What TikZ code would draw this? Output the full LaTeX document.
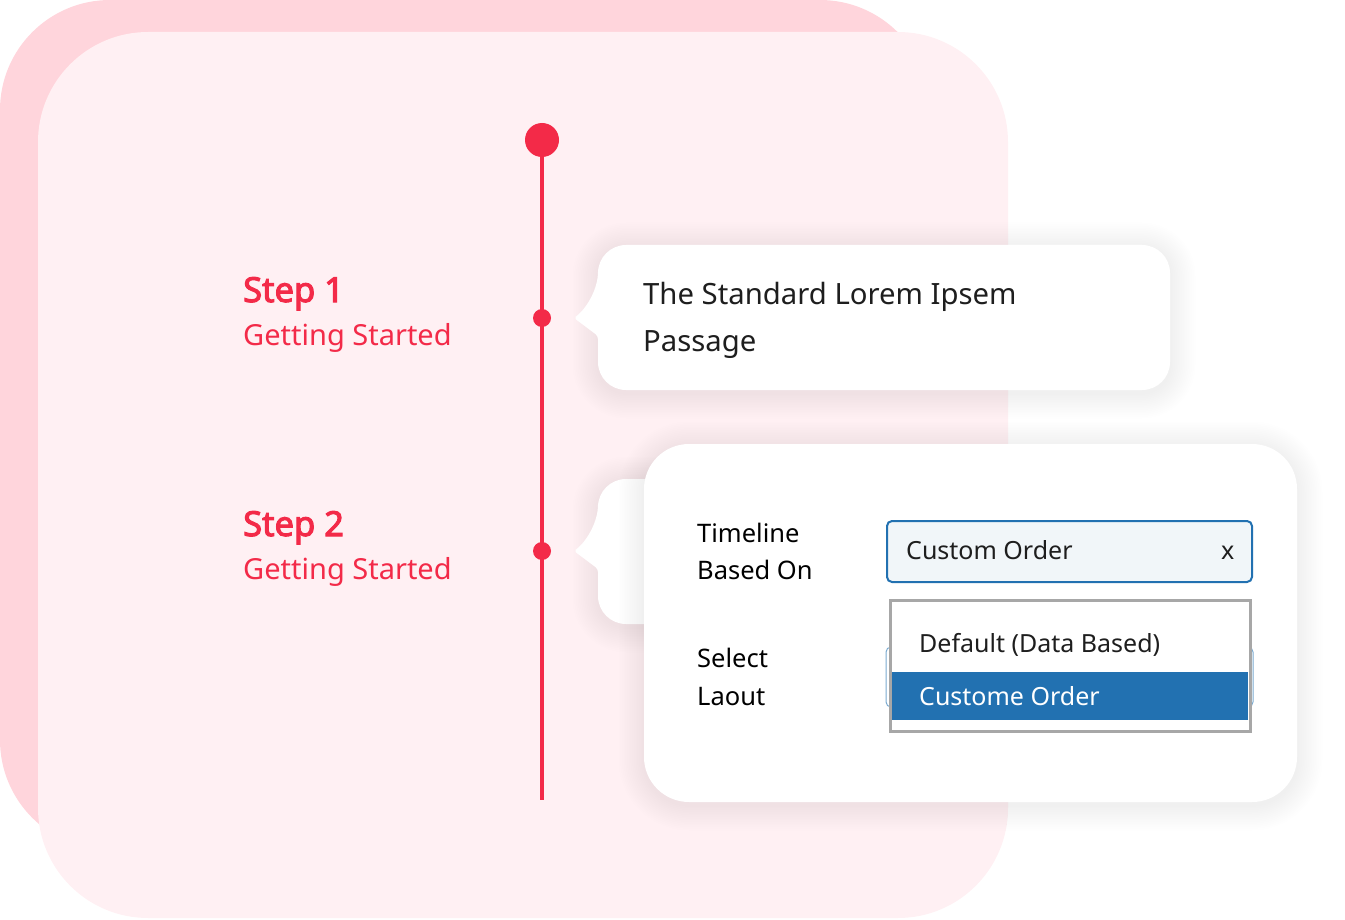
\documentclass[tikz,border=0pt]{standalone}
\usepackage{fontspec}
\setmainfont{Noto Sans}
\newfontfamily\stepfont{Noto Sans}[FakeBold=3]
\definecolor{backpink}{HTML}{FFD5DC}
\definecolor{frontpink}{HTML}{FFF0F3}
\definecolor{tred}{HTML}{F32A48}
\definecolor{ink}{HTML}{1E1E1E}
\definecolor{wpblue}{HTML}{2271B1}
\definecolor{inputfill}{HTML}{F1F6F9}
\definecolor{ddgray}{HTML}{A7A7A7}
\newcommand\mysoftshadow[5]{%
  \foreach \i in {1,...,15}{%
    \pgfmathsetmacro\rr{#5+1.7*\i}%
    \fill[black, opacity=0.0055, rounded corners=\rr pt] ({#1-1.7*\i},{#2-1.7*\i+3}) rectangle ({#3+1.7*\i},{#4+1.7*\i+3});
  }%
}
\tikzset{
  steptitle/.style={anchor=base west, inner sep=0pt, text=tred, font=\stepfont\fontsize{34.5}{40}\selectfont},
  stepsub/.style={anchor=base west, inner sep=0pt, text=tred, font=\fontsize{29}{34}\selectfont},
  bodytext/.style={anchor=base west, inner sep=0pt, text=ink, font=\fontsize{29.3}{34}\selectfont},
  labeltext/.style={anchor=base west, inner sep=0pt, text=black, font=\fontsize{25.5}{30}\selectfont},
  fieldtext/.style={anchor=base west, inner sep=0pt, text=ink, font=\fontsize{25}{30}\selectfont},
}
\begin{document}
\begin{tikzpicture}[x=1pt, y=-1pt]
\useasboundingbox (0,0) rectangle (1345,920);
% background cards
\fill[backpink, rounded corners=110pt] (0,0) rectangle (930,850);
\fill[frontpink, rounded corners=110pt] (38,32) rectangle (1008,918);
% timeline
\draw[tred, line width=4.5pt] (542,140) -- (542,800);
\fill[tred] (542,140) circle (17pt);
\fill[tred] (542,318) circle (9pt);
\fill[tred] (542,551) circle (9pt);
% step texts
\node[steptitle] (s1) at (243,302) {Step 1};
\node[stepsub] (s1sub) at (243,345) {Getting Started};
\node[steptitle] (s2) at (243,536) {Step 2};
\node[stepsub] (s2sub) at (243,579) {Getting Started};
% callout 1
\mysoftshadow{598}{245}{1170}{390}{28}
\path[fill=white] (598,300) [rounded corners=3pt] -- (574,318) -- (598,336) [rounded corners=28pt] -- (598,390) -- (1170,390) -- (1170,245) -- (598,245) -- cycle;
\node[bodytext] (c1a) at (643,305) {The Standard Lorem Ipsem};
\node[bodytext] (c1b) at (643,351) {Passage};
% callout 2 (mostly hidden)
\mysoftshadow{598}{479}{1000}{624}{28}
\path[fill=white] (598,533) [rounded corners=3pt] -- (574,551) -- (598,569) [rounded corners=28pt] -- (598,624) -- (1000,624) -- (1000,479) -- (598,479) -- cycle;
% settings panel
\mysoftshadow{644}{444}{1297}{802}{45}
\path[fill=white, rounded corners=45pt] (644,444) rectangle (1297,802);
\node[labeltext] (l1) at (697,542) {Timeline};
\node[labeltext] (l2) at (697,579) {Based On};
\node[labeltext] (l3) at (697,667) {Select};
\node[labeltext] (l4) at (697,705) {Laout};
% input 1
\draw[wpblue, line width=2pt, fill=inputfill, rounded corners=5pt] (887,521) rectangle (1252,582);
\node[fieldtext] (f1) at (906,559) {Custom Order};
\node[fieldtext] (fx) at (1221,559) {x};
% input 2 behind dropdown
\draw[wpblue!60, line width=1pt, rounded corners=5pt] (886,647) rectangle (1253,707);
% dropdown
\draw[ddgray, line width=3pt, fill=white] (890,600) rectangle (1250,731);
\fill[wpblue] (892,672) rectangle (1248,720);
\node[fieldtext] (o1) at (919,652) {Default (Data Based)};
\node[fieldtext, text=white] (o2) at (919,705) {Custome Order};
\end{tikzpicture}
\end{document}
